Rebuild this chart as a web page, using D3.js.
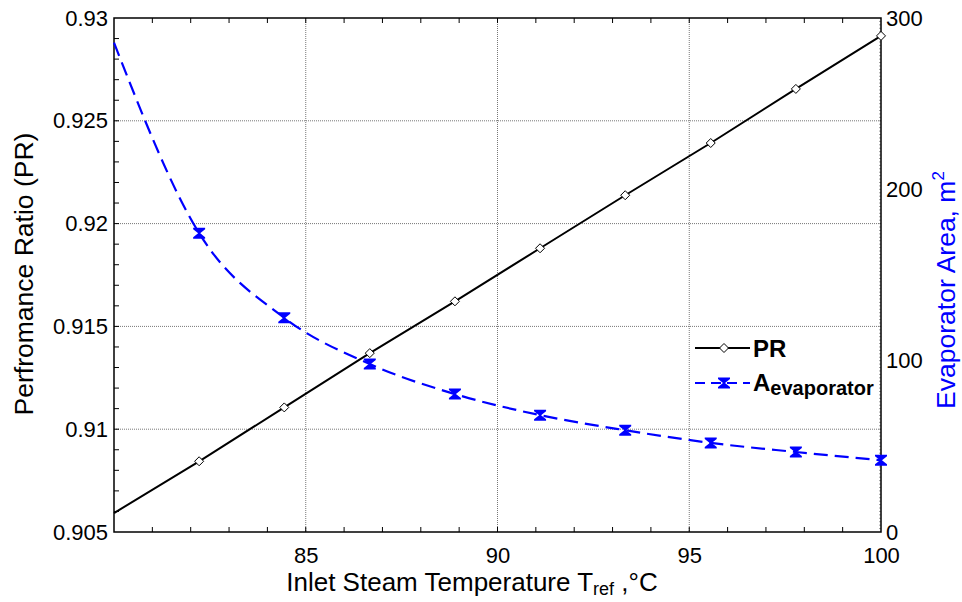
<!DOCTYPE html>
<html>
<head>
<meta charset="utf-8">
<script src="https://cdn.jsdelivr.net/npm/d3@7"></script>
<style>
  body { margin: 0; background: #fff; }
  text { font-family: "Liberation Sans", Arial, sans-serif; }
</style>
</head>
<body>
<div id="canvas"></div>
<script>
// data
var temps = [80, 82.22, 84.44, 86.67, 88.89, 91.11, 93.33, 95.56, 97.78, 100];
var prValues = [0.90592, 0.90844, 0.91106, 0.91370, 0.91622, 0.91880, 0.92138, 0.92392, 0.92655, 0.92913];
var areaValues = [285.6, 174.4, 125.0, 98.0, 80.5, 68.2, 59.4, 52.0, 46.7, 41.9];
var xTicks = [85, 90, 95, 100];
var prTicks = [0.905, 0.91, 0.915, 0.92, 0.925, 0.93];
var areaTicks = [0, 100, 200, 300];

var width = 962, height = 602;
var margin = {left: 114, right: 81, top: 18, bottom: 70};
var w = width - margin.left - margin.right;
var h = height - margin.top - margin.bottom;

var svg = d3.select("#canvas").append("svg")
  .attr("width", width)
  .attr("height", height);
var g = svg.append("g")
  .attr("transform", "translate(" + margin.left + "," + margin.top + ")");

var x = d3.scaleLinear().domain([80, 100]).range([0, w]);
var y = d3.scaleLinear().domain([0.905, 0.93]).range([h, 0]);
var y2 = d3.scaleLinear().domain([0, 300]).range([h, 0]);

// grid
g.selectAll(".vgrid").data([85, 90, 95]).enter().append("line")
  .attr("x1", (d) => x(d)).attr("x2", (d) => x(d))
  .attr("y1", 0).attr("y2", h)
  .attr("stroke", "#777").attr("stroke-width", 1).attr("stroke-dasharray", "1,1");
g.selectAll(".hgrid").data([0.91, 0.915, 0.92, 0.925]).enter().append("line")
  .attr("y1", (d) => y(d)).attr("y2", (d) => y(d))
  .attr("x1", 0).attr("x2", w)
  .attr("stroke", "#777").attr("stroke-width", 1).attr("stroke-dasharray", "1,1");

// axes, ticks drawn inward separately
var bottomAxis = d3.axisBottom(x).tickValues(xTicks).tickSize(0).tickPadding(15).tickFormat(d3.format("d"));
var xa = g.append("g").attr("transform", "translate(0," + h + ")").call(bottomAxis);
xa.select(".domain").remove();
xa.selectAll("text").attr("font-size", "22px").attr("fill", "#000");

var leftAxis = d3.axisLeft(y).tickValues(prTicks).tickSize(0).tickPadding(6)
  .tickFormat((d) => d3.format("")(+d.toFixed(3)));
var ya = g.append("g").call(leftAxis);
ya.select(".domain").remove();
ya.selectAll("text").attr("font-size", "22px").attr("fill", "#000");

var rightAxis = d3.axisRight(y2).tickValues(areaTicks).tickSize(0).tickPadding(5);
var ra = g.append("g").attr("transform", "translate(" + w + ",0)").call(rightAxis);
ra.select(".domain").remove();
ra.selectAll("text").attr("font-size", "22px").attr("fill", "#000");

// minor ticks
var xMinor = d3.range(81, 100, 1);
g.selectAll(".xminb").data(xMinor).enter().append("line")
  .attr("x1", (d) => x(d)).attr("x2", (d) => x(d))
  .attr("y1", h).attr("y2", h - 5).attr("stroke", "#000");
g.selectAll(".xmint").data(xMinor).enter().append("line")
  .attr("x1", (d) => x(d)).attr("x2", (d) => x(d))
  .attr("y1", 0).attr("y2", 5).attr("stroke", "#000");
var yMinor = d3.range(0.906, 0.9295, 0.001);
g.selectAll(".ymin").data(yMinor).enter().append("line")
  .attr("y1", (d) => y(d)).attr("y2", (d) => y(d))
  .attr("x1", 0).attr("x2", 5).attr("stroke", "#000");
var y2Minor = d3.range(2, 300, 2);
g.selectAll(".y2min").data(y2Minor).enter().append("line")
  .attr("y1", (d) => y2(d)).attr("y2", (d) => y2(d))
  .attr("x1", w).attr("x2", w - 2).attr("stroke", "#888").attr("stroke-width", 0.8);

// frame
g.append("rect").attr("width", w).attr("height", h)
  .attr("fill", "none").attr("stroke", "#000").attr("stroke-width", 1.5);

var prData = temps.map((t, i) => ({t: t, v: prValues[i]}));
var areaData = temps.map((t, i) => ({t: t, v: areaValues[i]}));

var prLine = d3.line().x((d) => x(d.t)).y((d) => y(d.v));
g.append("path").datum(prData)
  .attr("d", prLine).attr("fill", "none").attr("stroke", "#000").attr("stroke-width", 2);

var areaLine = d3.line().x((d) => x(d.t)).y((d) => y2(d.v)).curve(d3.curveMonotoneX);
g.append("path").datum(areaData)
  .attr("d", areaLine).attr("fill", "none").attr("stroke", "#0000ff")
  .attr("stroke-width", 2.2).attr("stroke-dasharray", "14,7");

// markers
var diamond = "M0,-4.5L4.5,0L0,4.5L-4.5,0Z";
var hourglass = "M-6,-5.5L6,-5.5L6,-4L1,0L6,4L6,5.5L-6,5.5L-6,4L-1,0L-6,-4Z";
g.selectAll(".prm").data(prData.slice(1)).enter().append("path")
  .attr("d", diamond)
  .attr("transform", (d) => "translate(" + x(d.t) + "," + y(d.v) + ")")
  .attr("fill", "#fff").attr("stroke", "#000").attr("stroke-width", 1);
g.selectAll(".am").data(areaData.slice(1)).enter().append("path")
  .attr("d", hourglass)
  .attr("transform", (d) => "translate(" + x(d.t) + "," + y2(d.v) + ")")
  .attr("fill", "#0000ff");

// legend
var lg = svg.append("g");
lg.append("line").attr("x1", 695).attr("x2", 750).attr("y1", 348).attr("y2", 348)
  .attr("stroke", "#000").attr("stroke-width", 2);
lg.append("path").attr("d", diamond).attr("transform", "translate(724,348)")
  .attr("fill", "#fff").attr("stroke", "#000");
lg.append("text").attr("x", 753).attr("y", 357).attr("font-size", "24px")
  .attr("font-weight", "bold").text("PR");
lg.append("line").attr("x1", 695).attr("x2", 750).attr("y1", 383).attr("y2", 383)
  .attr("stroke", "#0000ff").attr("stroke-width", 2.2).attr("stroke-dasharray", "10,6");
lg.append("path").attr("d", hourglass).attr("transform", "translate(724,383)")
  .attr("fill", "#0000ff");
var at = lg.append("text").attr("x", 753).attr("y", 391).attr("font-size", "24px").attr("font-weight", "bold");
at.append("tspan").text("A");
at.append("tspan").attr("font-size", "20px").attr("dy", 4).text("evaporator");

// axis titles
var xt = svg.append("text").attr("x", 472).attr("y", 591).attr("text-anchor", "middle")
  .attr("font-size", "26px");
xt.append("tspan").text("Inlet Steam Temperature T");
xt.append("tspan").attr("font-size", "18px").attr("dy", 4).text("ref");
xt.append("tspan").attr("dy", -4).text(" ,°C");

svg.append("text").attr("transform", "translate(33,274) rotate(-90)")
  .attr("text-anchor", "middle").attr("font-size", "26.5px").text("Perfromance Ratio (PR)");

var rt = svg.append("text").attr("transform", "translate(955,290) rotate(-90)")
  .attr("text-anchor", "middle").attr("font-size", "26.5px").attr("fill", "#0000ff");
rt.append("tspan").text("Evaporator Area, m");
rt.append("tspan").attr("font-size", "17px").attr("dy", -11).text("2");
</script>
</body>
</html>
